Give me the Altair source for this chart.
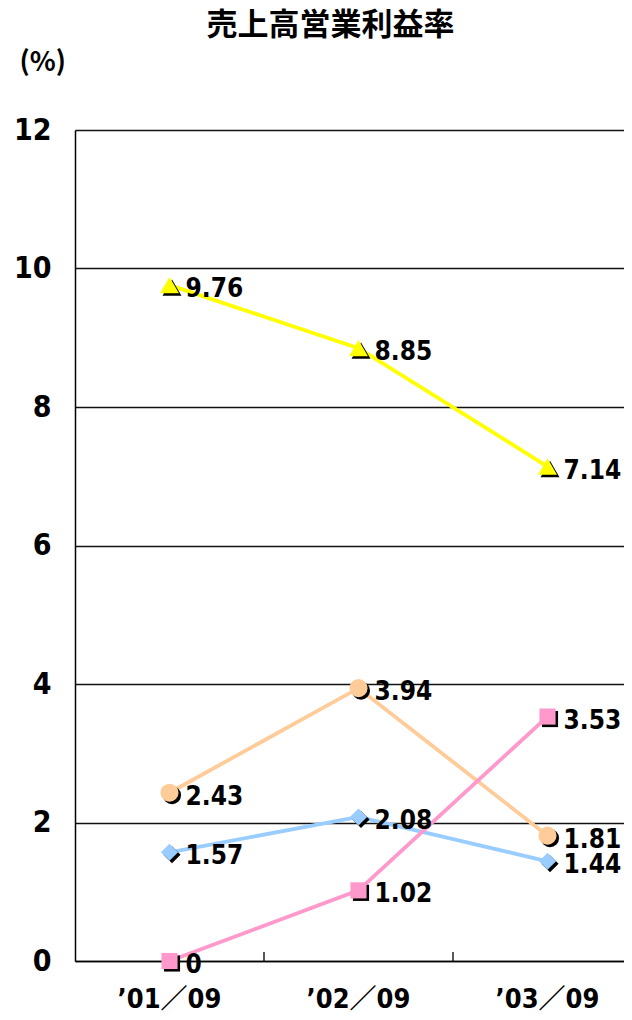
import altair as alt
import pandas as pd

categories = ["’01／09", "’02／09", "’03／09"]
series = ["yellow", "orange", "blue", "pink"]
yellow_vals = [9.76, 8.85, 7.14]
orange_vals = [2.43, 3.94, 1.81]
blue_vals = [1.57, 2.08, 1.44]
pink_vals = [0, 1.02, 3.53]
colors = ["#FFFF00", "#FFCC99", "#99CCFF", "#FF99CC"]
shapes = ["triangle-up", "circle", "diamond", "square"]
y_ticks = [0, 2, 4, 6, 8, 10, 12]
boundary_cats = categories[1:]

rows = []
for s, vals in zip(series, [yellow_vals, orange_vals, blue_vals, pink_vals]):
    for c, v in zip(categories, vals):
        rows.append({"series": s, "cat": c, "value": v, "label": f"{v:g}"})
df = pd.DataFrame(rows)
ticks_df = pd.DataFrame({"cat": boundary_cats})

NUM_FONT = "DejaVu Sans Condensed, Liberation Sans Narrow, Noto Sans CJK JP"
CJK_FONT = "Noto Sans CJK JP"

xscale = alt.Scale(type="band", domain=categories, paddingInner=0, paddingOuter=0)
x = alt.X("cat:N", sort=categories, scale=xscale, bandPosition=0.5,
          axis=alt.Axis(title=None, ticks=False, labelAngle=0, labelFont=NUM_FONT,
                        labelFontSize=27, labelFontWeight="bold", labelColor="black",
                        labelPadding=25, domainColor="black", domainWidth=1.5))
y = alt.Y("value:Q", scale=alt.Scale(domain=[0, 12]),
          axis=alt.Axis(values=y_ticks, format="d", title="(%)", titleAngle=0,
                        titleX=-56, titleY=-68, titleAlign="left", titleBaseline="middle",
                        titleFont=CJK_FONT, titleFontSize=27, titleFontWeight="bold",
                        titleColor="black",
                        labelFont=NUM_FONT, labelFontSize=30, labelFontWeight="bold",
                        labelColor="black", labelPadding=24, ticks=False,
                        grid=True, gridColor="#111111", gridWidth=1.3,
                        domainColor="black", domainWidth=1.5))
color = alt.Color("series:N", scale=alt.Scale(domain=series, range=colors), legend=None)
shape = alt.Shape("series:N", scale=alt.Scale(domain=series, range=shapes), legend=None)
size = alt.Size("series:N", scale=alt.Scale(domain=series, range=[360, 260, 240, 180]), legend=None)

base = alt.Chart(df)
lines = base.mark_line(strokeWidth=3.8).encode(x=x, y=y, color=color, detail="series:N")
shadow = base.mark_point(filled=True, opacity=1, color="black", xOffset=2.5, yOffset=2.5).encode(
    x=x, y=y, shape=shape, size=size)
points = base.mark_point(filled=True, opacity=1).encode(
    x=x, y=y, shape=shape, size=size, fill=color)
labels = base.mark_text(align="left", baseline="middle", dx=16, dy=4, font=NUM_FONT,
                        fontSize=26, fontWeight="bold", color="black").encode(
    x=x, y=y, text="label:N")
tick_marks = alt.Chart(ticks_df).mark_rule(color="black", strokeWidth=1.3).encode(
    x=alt.X("cat:N", sort=categories, scale=xscale, bandPosition=0),
    y=alt.value(831), y2=alt.value(822))

chart = alt.layer(lines, shadow, points, labels, tick_marks).properties(
    width=567, height=831,
    title=alt.TitleParams("売上高営業利益率", font=CJK_FONT, fontSize=31, fontWeight="bold",
                          color="black", anchor="middle", dx=-28, offset=-25, baseline="bottom"),
    autosize=alt.AutoSizeParams(type="none"),
    padding={"left": 67, "top": 122, "right": -18, "bottom": 51},
    background="white",
).configure_view(stroke=None)

chart.save("out.html", embed_options={"renderer": "svg", "actions": False})
